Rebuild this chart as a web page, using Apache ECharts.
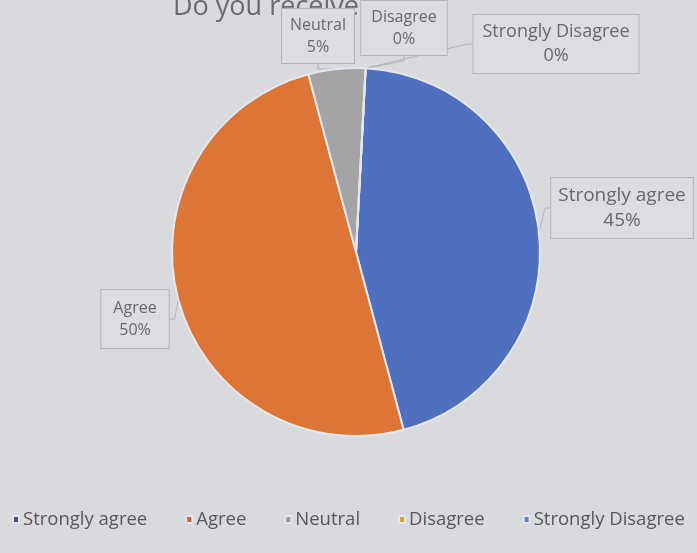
<!DOCTYPE html>
<html>
<head>
<meta charset="utf-8">
<script src="https://cdn.jsdelivr.net/npm/echarts@6/dist/echarts.min.js"></script>
<style>
html,body{margin:0;padding:0;background:#d9dadd;}
#c{width:697px;height:553px;}
</style>
</head>
<body>
<div id="c"></div>
<script>
const categories = ['Strongly agree', 'Agree', 'Neutral', 'Disagree', 'Strongly Disagree'];
const responses = [9, 10, 1, 0, 0];
const sliceColors = ['#4f6fbf', '#dc7536', '#a4a4a6', '#e6ad2a', '#5b8fcc'];
const legendColors = ['#3c4c9a', '#e05a2e', '#9a9a9c', '#e2a22a', '#4f86c8'];
const titleText = 'Do you receive p';

// label style per slice (photo perspective makes right-side text larger)
const labelPos = [[622, 208], [135, 319], [318, 36], [404, 28], [556, 44]];
const labelFont = [19, 16, 16, 16, 18];
const labelPad = [[5, 7], [7, 12], [5, 8], [5, 10], [5, 9]];

const chart = echarts.init(document.getElementById('c'));
const data = categories.map((n, i) => ({
  name: n, value: responses[i],
  itemStyle: { color: sliceColors[i] },
  label: {
    fontSize: labelFont[i], lineHeight: labelFont[i] + 6,
    padding: [labelPad[i][0], labelPad[i][1], labelPad[i][0], labelPad[i][1]]
  }
}));

chart.setOption({
  backgroundColor: '#d9dadd',
  animation: false,
  title: {
    text: titleText, left: 168, top: -11, z: 1,
    textStyle: { fontFamily: 'Open Sans', fontSize: 27, fontWeight: 'normal', color: '#6a6b6e' }
  },
  legend: {
    bottom: 24, left: 12, width: 685, padding: 0, itemWidth: 6, itemHeight: 7, itemGap: 38, icon: 'rect',
    data: categories.map((n, i) => ({ name: n, itemStyle: { color: legendColors[i] } })),
    textStyle: { fontFamily: 'Open Sans', fontSize: 18.5, color: '#56575a', padding: [0, 0, 0, -1] }
  },
  series: [{
    type: 'pie',
    center: [356, 252],
    radius: 184,
    startAngle: 87,
    clockwise: true,
    stillShowZeroSum: true,
    avoidLabelOverlap: false,
    itemStyle: { borderColor: '#e6e7ea', borderWidth: 2 },
    label: {
      show: true,
      formatter: '{b}\n{d}%',
      fontFamily: 'Open Sans',
      color: '#67686b',
      align: 'center',
      backgroundColor: '#dcdde0',
      borderColor: '#b3b4b7',
      borderWidth: 1
    },
    labelLine: { show: true, length: 5, length2: 5, lineStyle: { color: '#b3b4b7', width: 1 } },
    labelLayout: function (p) {
      const pos = labelPos[p.dataIndex];
      return { x: pos[0], y: pos[1], align: 'center', verticalAlign: 'middle' };
    },
    data: data
  }]
});
</script>
</body>
</html>
